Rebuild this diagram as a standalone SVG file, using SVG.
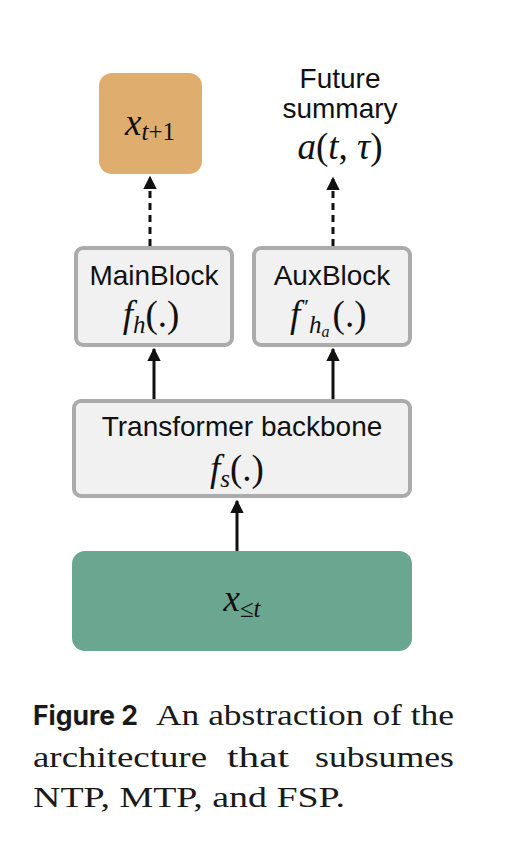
<svg xmlns="http://www.w3.org/2000/svg" width="508" height="862" viewBox="0 0 508 862">
<style>
.box{fill:#f1f1f1;stroke:#ababab;stroke-width:4}
.lbl{font-family:"Liberation Sans",Arial,sans-serif;font-size:28px;fill:#111;text-anchor:middle}
.m{font-family:"Liberation Serif","DejaVu Serif",serif;font-style:italic;fill:#111;text-anchor:middle;font-size:37px}
.st{text-anchor:start}
.up{font-style:normal}
.sub{font-size:25px}
.cap{font-family:"Liberation Serif","DejaVu Serif",serif;font-size:30px;fill:#1a1a1a}
.capb{font-family:Inter,"Liberation Sans",sans-serif;font-weight:bold;font-size:27px;fill:#1a1a1a}
.conn{stroke:#111;stroke-width:3;fill:none}
.dash{stroke-dasharray:7 5}
</style>
<defs>
<marker id="ah" viewBox="0 0 10 10" refX="9" refY="5" markerWidth="4.5" markerHeight="4.5" orient="auto" markerUnits="strokeWidth">
<path d="M0,0 L10,5 L0,10 z" fill="#111"/>
</marker>
</defs>
<rect width="508" height="862" fill="#fff"/>
<g id="connectors">
<line class="conn dash" x1="150" y1="246" x2="150" y2="177" marker-end="url(#ah)"/>
<line class="conn dash" x1="333" y1="246" x2="333" y2="178" marker-end="url(#ah)"/>
<line class="conn" x1="154" y1="399" x2="154" y2="349" marker-end="url(#ah)"/>
<line class="conn" x1="333" y1="399" x2="333" y2="349" marker-end="url(#ah)"/>
<line class="conn" x1="237" y1="551" x2="237" y2="501" marker-end="url(#ah)"/>
</g>
<g id="next-token">
<rect x="99" y="73" width="103" height="101" rx="13" fill="#DFAD6E"/>
<text class="m" x="150" y="135">x<tspan class="sub" dy="5">t</tspan><tspan class="sub up">+1</tspan></text>
</g>
<g id="future-summary">
<text class="lbl" x="340" y="88">Future</text>
<text class="lbl" x="340" y="118">summary</text>
<text class="m" x="340" y="159">a<tspan class="up">(</tspan>t<tspan class="up">, </tspan>τ<tspan class="up">)</tspan></text>
</g>
<g id="mainblock">
<rect class="box" x="76" y="248" width="156" height="97" rx="7"/>
<text class="lbl" x="154" y="285">MainBlock</text>
<text class="m" x="151" y="327">f<tspan class="sub" dy="6">h</tspan><tspan class="up" dy="-6">(.)</tspan></text>
</g>
<g id="auxblock">
<rect class="box" x="254" y="248" width="156" height="97" rx="7"/>
<text class="lbl" x="332" y="285">AuxBlock</text>
<text class="m st" x="290" y="327">f<tspan class="up" style="font-size:22px" dy="-13" dx="4">′</tspan><tspan class="sub" dy="19" dx="0">h</tspan><tspan style="font-size:16px" dy="4">a</tspan><tspan class="up" dy="-10" dx="3">(.)</tspan></text>
</g>
<g id="backbone">
<rect class="box" x="74" y="401" width="336" height="95" rx="7"/>
<text class="lbl" x="242" y="436">Transformer backbone</text>
<text class="m" x="237" y="481">f<tspan class="sub" dy="6">s</tspan><tspan class="up" dy="-6">(.)</tspan></text>
</g>
<g id="input">
<rect x="72" y="551" width="340" height="100" rx="13" fill="#6BA690"/>
<text class="m" x="242" y="611">x<tspan class="sub up" dy="6">≤</tspan><tspan class="sub">t</tspan></text>
</g>
<g id="caption">
<text class="capb" x="33" y="725" textLength="105" lengthAdjust="spacingAndGlyphs">Figure 2</text>
<text class="cap" x="156" y="725" textLength="298" lengthAdjust="spacingAndGlyphs">An abstraction of the</text>
<text class="cap" x="33" y="767" textLength="174" lengthAdjust="spacingAndGlyphs">architecture</text>
<text class="cap" x="227" y="767" textLength="62" lengthAdjust="spacingAndGlyphs">that</text>
<text class="cap" x="315" y="767" textLength="139" lengthAdjust="spacingAndGlyphs">subsumes</text>
<text class="cap" x="33" y="807" textLength="312" lengthAdjust="spacingAndGlyphs">NTP, MTP, and FSP.</text>
</g>
</svg>
